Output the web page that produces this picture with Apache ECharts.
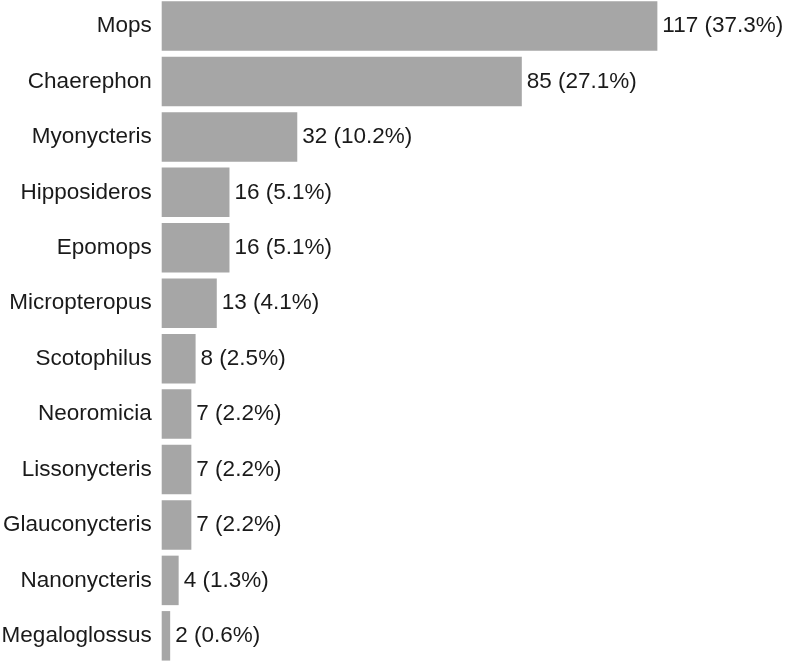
<!DOCTYPE html>
<html>
<head>
<meta charset="utf-8">
<script src="https://cdn.jsdelivr.net/npm/echarts@6/dist/echarts.min.js"></script>
<style>
html,body{margin:0;padding:0;background:#fff;}
#chart{width:789px;height:662px;}
</style>
</head>
<body>
<div id="chart"></div>
<script>
const categories = ["Mops","Chaerephon","Myonycteris","Hipposideros","Epomops","Micropteropus","Scotophilus","Neoromicia","Lissonycteris","Glauconycteris","Nanonycteris","Megaloglossus"];
const counts = [117,85,32,16,16,13,8,7,7,7,4,2];
const percents = ["37.3%","27.1%","10.2%","5.1%","5.1%","4.1%","2.5%","2.2%","2.2%","2.2%","1.3%","0.6%"];

const chart = echarts.init(document.getElementById('chart'), null, {renderer:'canvas'});
chart.setOption({
  animation:false,
  backgroundColor:'#ffffff',
  grid:{left:161.7, top:-1.65, width:627, height:665.2, containLabel:false, outerBoundsMode:'none'},
  xAxis:{type:'value', min:0, max:148, show:false},
  yAxis:{
    type:'category', data:categories, inverse:true,
    axisLine:{show:false}, axisTick:{show:false},
    axisLabel:{fontFamily:'Liberation Sans, Arial, sans-serif', fontSize:22.5, color:'#1a1a1a', margin:10}
  },
  series:[{
    type:'bar', data:counts, barCategoryGap:'10.7%',
    itemStyle:{color:'#a6a6a6'},
    label:{
      show:true, position:'right', distance:5,
      fontFamily:'Liberation Sans, Arial, sans-serif', fontSize:22.5, color:'#1a1a1a',
      formatter:p => p.value + ' (' + percents[p.dataIndex] + ')'
    }
  }]
});
</script>
</body>
</html>
